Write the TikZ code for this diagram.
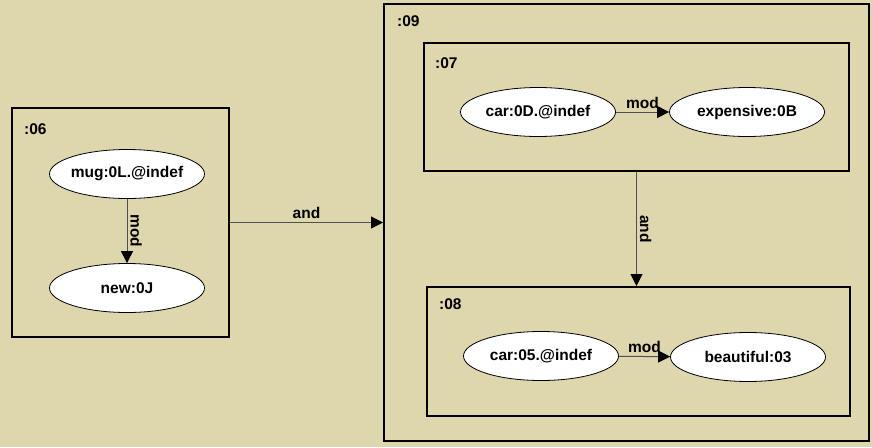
\documentclass[tikz,border=0pt]{standalone}
\usepackage{fontspec}
\setmainfont{Liberation Sans}
\usetikzlibrary{shapes.geometric,arrows.meta}
\definecolor{panel}{RGB}{222,214,173}
\definecolor{edgegray}{RGB}{80,80,80}

\begin{document}
\begin{tikzpicture}
  [x=1pt, y=-1pt,
  font=\fontsize{15.5}{18}\selectfont\bfseries,
  frame/.style={draw, rectangle, line width=2pt, inner sep=0pt},
  concept/.style={draw, ellipse, fill=white, line width=0.8pt,
    minimum width=155pt, minimum height=49pt, inner xsep=-30pt, inner ysep=0pt},
  rel/.style={draw=edgegray, line width=1pt,
    -{Triangle[length=12pt,width=12pt,color=black]}},
  tag/.style={anchor=north west, inner sep=0pt},
  lbl/.style={inner sep=3pt}]
  \fill[panel] (0,0) rectangle (872,447);
  \useasboundingbox (0,0) rectangle (872,447);

  % frames
  \node[frame, minimum width=217pt, minimum height=229pt] (g06) at (120.5,222.5) {};
  \node[frame, minimum width=485pt, minimum height=437pt] (g09) at (626.5,222.5) {};
  \node[frame, minimum width=425pt, minimum height=128pt] (g07) at (636.5,107) {};
  \node[frame, minimum width=423pt, minimum height=129pt] (g08) at (638.5,351.5) {};
  \node[tag] at ([xshift=13pt,yshift=-16pt]g06.north west) {:06};
  \node[tag] at ([xshift=14pt,yshift=-12pt]g09.north west) {:09};
  \node[tag] at ([xshift=12pt,yshift=-15pt]g07.north west) {:07};
  \node[tag] at ([xshift=13pt,yshift=-12pt]g08.north west) {:08};

  % concepts
  \node[concept] (mug) at (127,174) {mug:0L.@indef};
  \node[concept] (new) at (127,288) {new:0J};
  \node[concept] (car0D) at (538,112) {car:0D.@indef};
  \node[concept] (expensive) at (747,112) {expensive:0B};
  \node[concept] (car05) at (541,356) {car:05.@indef};
  \node[concept] (beautiful) at (748,357) {beautiful:03};

  % relations
  \draw[rel] (mug) -- node[lbl, anchor=south, rotate=-90] {mod} (new);
  \draw[rel] (car0D) -- node[lbl, above] {mod} (expensive);
  \draw[rel] (car05) -- node[lbl, above] {mod} (beautiful);
  \draw[rel] (g06) -- node[lbl, above] {and} (g09);
  \draw[rel] (g07.south) -- node[lbl, anchor=south, rotate=-90] {and} (g07.south |- g08.north);
\end{tikzpicture}
\end{document}
